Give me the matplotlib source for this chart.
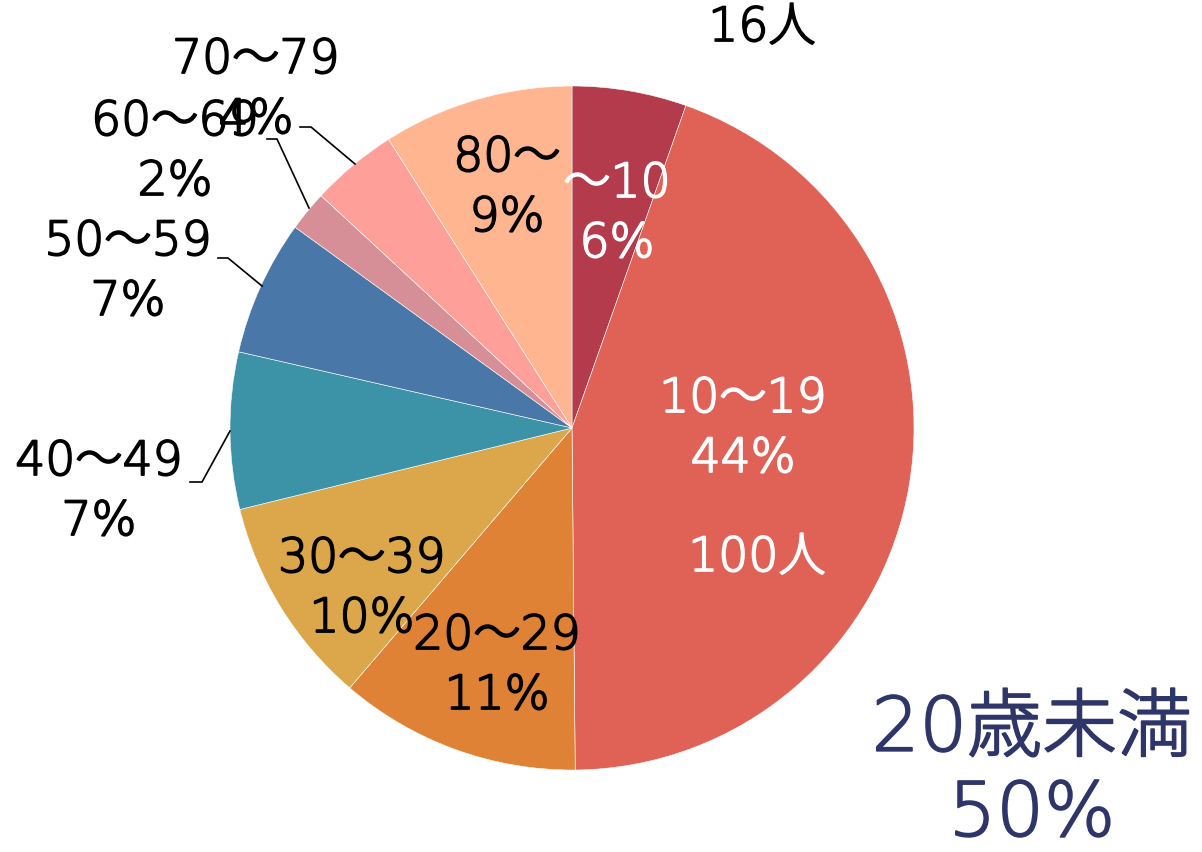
import numpy as np
import matplotlib.pyplot as plt
import matplotlib.patheffects as pe

plt.rcParams['font.family'] = ['DejaVu Sans', 'Noto Sans CJK JP']

# slice data, clockwise from 12 o'clock
groups = ['～10', '10～19', '20～29', '30～39', '40～49', '50～59', '60～69', '70～79', '80～']
shares = [5.4, 44.4, 11.4, 9.9, 7.4, 6.4, 1.9, 4.1, 9.0]
pct_labels = [6, 44, 11, 10, 7, 7, 2, 4, 9]
colors = ['#B33B4C', '#E06155', '#E08236', '#DBA74A', '#3C93A7',
          '#4977A7', '#D68F96', '#FF9F99', '#FFB590']
text_colors = ['white', 'white', 'black', 'black', 'black',
               'black', 'black', 'black', 'black']
count_notes = ['16人', '100人']
summary_title = '20歳未満'
summary_pct = '50%'

W, H = 1202, 852
fig = plt.figure(figsize=(W / 100, H / 100), dpi=100)
ax = fig.add_axes([0, 0, 1, 1])


def px(x, y):
    return x, H - y


def label(x, y, s, color, size=34):
    # thin font thickened slightly with a same-colour stroke
    ax.text(*px(x, y), s, fontsize=size, color=color, fontweight='light',
            ha='center', va='center',
            path_effects=[pe.withStroke(linewidth=1.3, foreground=color)])


cx, cy = px(572, 428)
R = 342
ax.pie(shares, colors=colors, startangle=90, counterclock=False,
       center=(cx, cy), radius=R, frame=True,
       wedgeprops=dict(edgecolor='white', linewidth=0.4))
ax.set_xlim(0, W)
ax.set_ylim(0, H)
ax.set_aspect('equal')
ax.axis('off')

# label centres (pixels from top-left) and line gap
label_pos = [(617, 214), (743, 429), (497, 666), (362, 589), (99, 492),
             (128, 272), (175, 152), (256, 90), (507, 188)]
gap = 30
for g, p, c, (x, y) in zip(groups, pct_labels, text_colors, label_pos):
    label(x, y - gap, g, c)
    label(x, y + gap, f'{p}%', c)

# leader lines for outside labels
leaders = [
    [(190, 482), (202, 482), (230, 431)],
    [(218, 258), (228, 258), (262, 286)],
    [(267, 139), (277, 139), (309, 208)],
    [(300, 127), (311, 127), (355, 164)],
]
for pts in leaders:
    xs, ys = zip(*[px(a, b) for a, b in pts])
    ax.plot(xs, ys, color='black', lw=1.2)

label(762, 28, count_notes[0], 'black')
label(757, 558, count_notes[1], 'white')

label(1032, 730, summary_title, '#2E3568', size=54)
label(1032, 815, summary_pct, '#2E3568', size=54)

fig.savefig('out.png', dpi=100, facecolor='white')
